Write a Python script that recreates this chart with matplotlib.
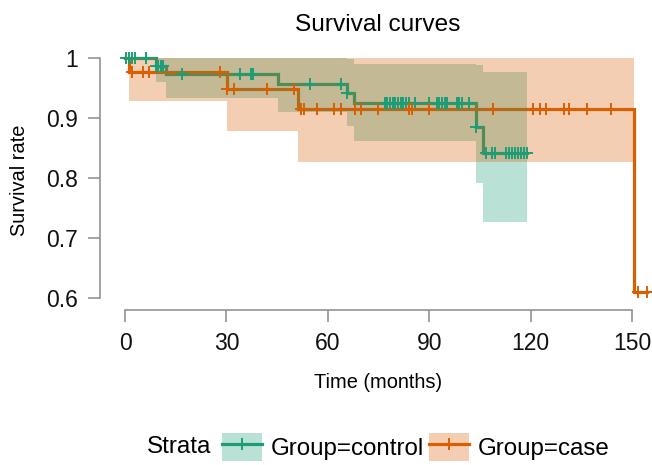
import numpy as np
import matplotlib
matplotlib.use("Agg")
import matplotlib.pyplot as plt
from matplotlib.patches import Patch
from matplotlib.lines import Line2D

plt.rcParams['font.family'] = ['Liberation Sans', 'DejaVu Sans']

# ---- data ----
ctrl_time = [0, 9.1, 12.1, 45.2, 65.8, 67.8, 103.8, 105.8]
ctrl_surv = [1.0, 0.987, 0.973, 0.957, 0.941, 0.9245, 0.885, 0.842]
ctrl_upper = [1.0, 1.0, 1.0, 1.0, 0.999, 0.990, 0.988, 0.976]
ctrl_lower = [1.0, 0.960, 0.934, 0.910, 0.886, 0.862, 0.791, 0.727]
ctrl_end = 118.8
ctrl_censor = [0.2, 1.1, 2.0, 2.9, 6.2, 9.1, 9.9, 10.6, 11.3, 17.0, 34.0, 37.2, 37.9,
               54.7, 63.9, 65.8, 76.9, 77.6, 78.4, 79.2, 80.0, 80.8, 81.6, 82.3, 83.1,
               83.9, 85.9, 89.8, 92.2, 93.0, 93.8, 94.6, 95.4, 98.1, 98.9, 99.7, 101.7,
               103.8, 106.8, 108.6, 109.5, 112.7, 113.6, 114.5, 115.4, 116.3, 117.2,
               118.0, 118.8]

case_time = [0, 1.2, 30.1, 51.1, 150.7]
case_surv = [1.0, 0.976, 0.948, 0.9155, 0.6095]
case_band_time = [0, 1.2, 30.1, 51.1]
case_upper = [1.0, 1.0, 1.0, 1.0]
case_lower = [1.0, 0.929, 0.879, 0.826]
case_band_end = 150.7
case_end = 154.3
case_censor = [2.2, 5.2, 7.1, 28.1, 30.1, 32.2, 41.9, 50.0, 52.0, 53.0, 56.9, 61.9,
               63.8, 68.0, 69.8, 74.8, 83.9, 84.8, 89.8, 108.8, 120.7, 122.7, 124.6,
               129.9, 131.5, 136.8, 143.7, 151.7, 154.3]

labels = ["Group=control", "Group=case"]
colors = ["#1B9E77", "#D95F02"]
x_ticks = [0, 30, 60, 90, 120, 150]
y_ticks = [0.6, 0.7, 0.8, 0.9, 1.0]
y_ticklabels = ["0.6", "0.7", "0.8", "0.9", "1"]

# ---- figure ----
W, H = 652, 465
fig = plt.figure(figsize=(W / 100, H / 100), dpi=100)
# axes in pixel coordinates: left 100, right 652, top 46, bottom 310
ax = fig.add_axes([100 / W, 1 - 310 / H, 552 / W, 264 / H])
px_per_month = (632 - 125) / 150.0
ax.set_xlim((100 - 125) / px_per_month, (652 - 125) / px_per_month)
ax.set_ylim(0.58, 1.02)

groups = [
    (ctrl_time, ctrl_surv, ctrl_time, ctrl_lower, ctrl_upper, ctrl_end, ctrl_end, ctrl_censor),
    (case_time, case_surv, case_band_time, case_lower, case_upper, case_band_end, case_end, case_censor),
]

lw = 2.3
for (t, s, bt, lo, up, bend, end, cens), col in zip(groups, colors):
    tx = list(t) + [end]
    sy = list(s) + [s[-1]]
    ax.step(tx, sy, where='post', color=col, lw=lw, zorder=2, solid_joinstyle='miter')

for (t, s, bt, lo, up, bend, end, cens), col in zip(groups, colors):
    bx = list(bt) + [bend]
    ax.fill_between(bx, list(lo) + [lo[-1]], list(up) + [up[-1]], step='post',
                    color=col, alpha=0.3, lw=0, zorder=3)

for (t, s, bt, lo, up, bend, end, cens), col in zip(groups, colors):
    idx = np.searchsorted(np.array(t), np.array(cens), side='right') - 1
    cy = np.array(s)[idx]
    ax.plot(cens, cy, linestyle='none', marker='+', ms=8, mew=1.4, color=col, zorder=4)

# axes styling
for side in ['top', 'right']:
    ax.spines[side].set_visible(False)
axis_col = '#8a8a8a'
ax.spines['left'].set_bounds(0.6, 1.0)
ax.spines['bottom'].set_bounds(0, 150)
for side in ['left', 'bottom']:
    ax.spines[side].set_color(axis_col)
    ax.spines[side].set_linewidth(1.1)
ax.set_xticks(x_ticks)
ax.set_xticklabels([str(v) for v in x_ticks])
ax.set_yticks(y_ticks)
ax.set_yticklabels(y_ticklabels)
ax.tick_params(axis='both', length=8.6, width=1.1, color=axis_col, labelsize=16.5,
               labelcolor='#111111', pad=7.5)
ax.set_facecolor('white')

fig.text(378 / W, 1 - 383 / H, "Time (months)", ha='center', va='center', fontsize=14.4)
fig.text(20 / W, 1 - 180 / H, "Survival rate", ha='center', va='center', rotation=90,
         fontsize=14.4)
fig.text(378 / W, 1 - 25 / H, "Survival curves", ha='center', va='center', fontsize=17.6)

# legend
handles = []
for col in colors:
    handles.append((Patch(facecolor=col, alpha=0.3, edgecolor='none'),
                    Line2D([], [], color=col, lw=lw, marker='+', ms=8, mew=1.4)))
fs = 17.4
fpx = fs * 100 / 72
leg = fig.legend(handles, labels, loc='center', ncol=2, frameon=False, fontsize=fs,
                 bbox_to_anchor=((219 + 612) / 2 / W, 1 - 447 / H),
                 handlelength=40 / fpx, handleheight=35 / fpx, handletextpad=9 / fpx,
                 columnspacing=5 / fpx, borderpad=0, borderaxespad=0, numpoints=1)
fig.text(211 / W, 1 - 447 / H, "Strata", ha='right', va='center', fontsize=fs)

fig.savefig("out.png", dpi=100, facecolor='white')
